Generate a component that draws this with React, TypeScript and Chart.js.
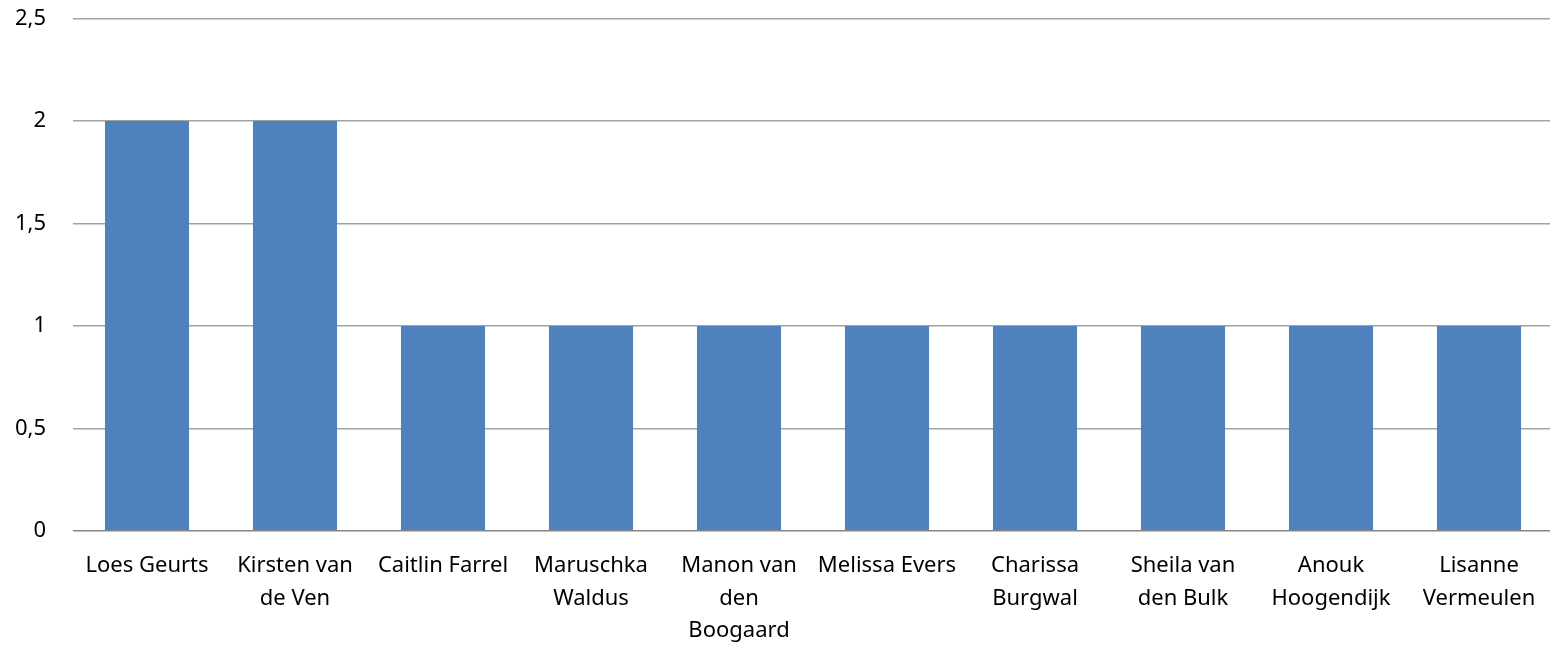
import React, { useEffect, useRef } from "react";
import { Chart, registerables } from "chart.js";

Chart.register(...registerables);

const categories: (string | string[])[] = [
  "Loes Geurts",
  ["Kirsten van", "de Ven"],
  "Caitlin Farrel",
  ["Maruschka", "Waldus"],
  ["Manon van", "den", "Boogaard"],
  "Melissa Evers",
  ["Charissa", "Burgwal"],
  ["Sheila van", "den Bulk"],
  ["Anouk", "Hoogendijk"],
  ["Lisanne", "Vermeulen"],
];

const values: number[] = [2, 2, 1, 1, 1, 1, 1, 1, 1, 1];

const yMin = 0;
const yMax = 2.5;
const yStep = 0.5;

export default function App() {
  const canvasRef = useRef<HTMLCanvasElement | null>(null);

  useEffect(() => {
    if (!canvasRef.current) return;
    const font = { family: "'Noto Sans', sans-serif", size: 22 };
    const chart = new Chart(canvasRef.current, {
      type: "bar",
      data: {
        labels: categories,
        datasets: [
          {
            data: values,
            backgroundColor: "#4F81BD",
            borderWidth: 0,
            categoryPercentage: 1,
            barPercentage: 0.568,
          },
        ],
      },
      options: {
        responsive: false,
        animation: false,
        layout: { padding: { top: 18.7, left: 0, right: 0, bottom: 0 } },
        plugins: {
          legend: { display: false },
          tooltip: { enabled: false },
        },
        scales: {
          x: {
            grid: { display: false },
            border: { display: false },
            ticks: {
              color: "#000",
              font: { ...font, lineHeight: 1.48 },
              maxRotation: 0,
              autoSkip: false,
              padding: 11,
            },
            afterFit: (scale: any) => {
              scale.height = 645 - 530.7;
              scale.paddingLeft = 0;
              scale.paddingRight = 0;
            },
          },
          y: {
            min: yMin,
            max: yMax,
            border: { display: false },
            grid: {
              drawTicks: false,
              color: (ctx: any) => (ctx.tick && ctx.tick.value === 0 ? "#868686" : "#a3a3a3"),
              lineWidth: 1.5,
            },
            ticks: {
              stepSize: yStep,
              color: "#000",
              font,
              padding: 27,
              callback: (v: any) => String(v).replace(".", ","),
            },
            afterFit: (scale: any) => {
              scale.width = 73;
              scale.paddingTop = 0;
              scale.paddingBottom = 0;
            },
          },
        },
      },
    });
    return () => chart.destroy();
  }, []);

  return (
    <div style={{ position: "fixed", left: 0, top: 0, width: 1550, height: 645, overflow: "hidden", background: "#fff" }}>
      <canvas ref={canvasRef} width={1553} height={645} style={{ display: "block", width: 1553, height: 645 }} />
    </div>
  );
}
